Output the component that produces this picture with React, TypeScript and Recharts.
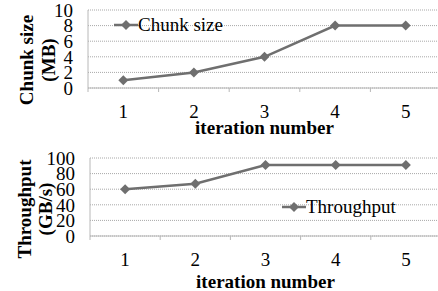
import { LineChart, Line, XAxis, YAxis, CartesianGrid, Legend } from "recharts";

const iterations = [1, 2, 3, 4, 5];
const chunkSizeMB = [1, 2, 4, 8, 8];
const throughputGBs = [60, 67, 91, 91, 91];
const chunkTicks = [0, 2, 4, 6, 8, 10];
const throughputTicks = [0, 20, 40, 60, 80, 100];

const chunkData = iterations.map((it, i) => ({ it, value: chunkSizeMB[i] }));
const throughputData = iterations.map((it, i) => ({ it, value: throughputGBs[i] }));
// label ticks on the integers, boundary tick marks half way between them
const xTicks = iterations.flatMap((v) => [v - 0.5, v]).concat(iterations.length + 0.5);

const SERIF = "Liberation Serif";
const LINE = "#6f6f6f";
const AXIS = "#b8b8b8";

const Diamond = ({ cx, cy }: any) => {
  if (cx == null || cy == null) return null;
  const r = 5;
  return (
    <polygon
      points={`${cx},${cy - r} ${cx + r},${cy} ${cx},${cy + r} ${cx - r},${cy}`}
      fill={LINE}
    />
  );
};

const XTick = ({ x, y, payload }: any) => {
  if (!Number.isInteger(payload.value)) {
    return <line x1={x} y1={y} x2={x} y2={y + 4} stroke={AXIS} />;
  }
  return (
    <text x={x} y={y + 30} textAnchor="middle" fontFamily={SERIF} fontSize={19} fill="#000">
      {payload.value}
    </text>
  );
};

const YTitle = ({ viewBox, lines, xs, dy }: any) => {
  const cy = viewBox.y + viewBox.height / 2 + dy;
  return (
    <g>
      {lines.map((l: string, i: number) => (
        <text
          key={l}
          transform={`translate(${xs[i]},${cy}) rotate(-90)`}
          textAnchor="middle"
          dominantBaseline="central"
          fontFamily={SERIF}
          fontWeight="bold"
          fontSize={19}
          fill="#000"
        >
          {l}
        </text>
      ))}
    </g>
  );
};

const XTitle = ({ viewBox, dy }: any) => (
  <text
    x={viewBox.x + viewBox.width / 2}
    y={viewBox.y + dy}
    textAnchor="middle"
    fontFamily={SERIF}
    fontWeight="bold"
    fontSize={19}
    fill="#000"
  >
    iteration number
  </text>
);

const LegendItem = ({ label }: { label: string }) => (
  <div
    style={{
      display: "flex",
      alignItems: "center",
      fontFamily: SERIF,
      fontSize: 19,
      lineHeight: "20px",
      color: "#000",
      whiteSpace: "nowrap",
    }}
  >
    <svg width={24} height={12}>
      <line x1={0} y1={6} x2={24} y2={6} stroke={LINE} strokeWidth={2.5} />
      <polygon points="12,1 17,6 12,11 7,6" fill={LINE} />
    </svg>
    <span>{label}</span>
  </div>
);

function Panel({ data, height, top, yWidth, bottom, yTicks, yMax, titleLines, titleXs, titleDy, xTitleDy, legend, legendPos }: any) {
  return (
    <LineChart
      width={438}
      height={height}
      data={data}
      margin={{ top, right: -3, left: 0, bottom: 0 }}
      style={{ fontFamily: SERIF }}
    >
      <CartesianGrid vertical={false} stroke="#a8a8a8" strokeDasharray="1 1" />
      <XAxis
        dataKey="it"
        type="number"
        domain={[0.5, iterations.length + 0.5]}
        ticks={xTicks}
        interval={0}
        height={bottom}
        tickLine={false}
        tickSize={0}
        tickMargin={0}
        stroke={AXIS}
        tick={<XTick />}
        label={{ content: (p: any) => <XTitle viewBox={p.viewBox} dy={xTitleDy} /> }}
      />
      <YAxis
        width={yWidth}
        domain={[0, yMax]}
        ticks={yTicks}
        interval={0}
        tickLine={false}
        tickSize={0}
        tickMargin={15}
        stroke={AXIS}
        tick={{ fill: "#000", fontSize: 19, fontFamily: SERIF }}
        label={{ content: (p: any) => <YTitle viewBox={p.viewBox} lines={titleLines} xs={titleXs} dy={titleDy} /> }}
      />
      <Legend
        layout="horizontal"
        verticalAlign="middle"
        align="center"
        wrapperStyle={{ left: legendPos[0], top: legendPos[1], width: "auto" }}
        content={() => <LegendItem label={legend} />}
      />
      <Line
        dataKey="value"
        name={legend}
        stroke={LINE}
        strokeWidth={2.5}
        dot={<Diamond />}
        activeDot={false}
        isAnimationActive={false}
      />
    </LineChart>
  );
}

export default function App() {
  return (
    <div style={{ position: "absolute", left: 0, top: 0, width: 438, height: 291, background: "#fff" }}>
      <Panel
        data={chunkData}
        height={145}
        top={10}
        yWidth={88}
        bottom={57}
        yTicks={chunkTicks}
        yMax={10}
        titleLines={["Chunk size", "(MB)"]}
        titleXs={[26, 48]}
        titleDy={11}
        xTitleDy={46}
        legend="Chunk size"
        legendPos={[114, 15]}
      />
      <Panel
        data={throughputData}
        height={146}
        top={13}
        yWidth={90}
        bottom={55}
        yTicks={throughputTicks}
        yMax={100}
        titleLines={["Throughput", "(GB/s)"]}
        titleXs={[24, 45]}
        titleDy={12}
        xTitleDy={52}
        legend="Throughput"
        legendPos={[282, 52]}
      />
    </div>
  );
}
